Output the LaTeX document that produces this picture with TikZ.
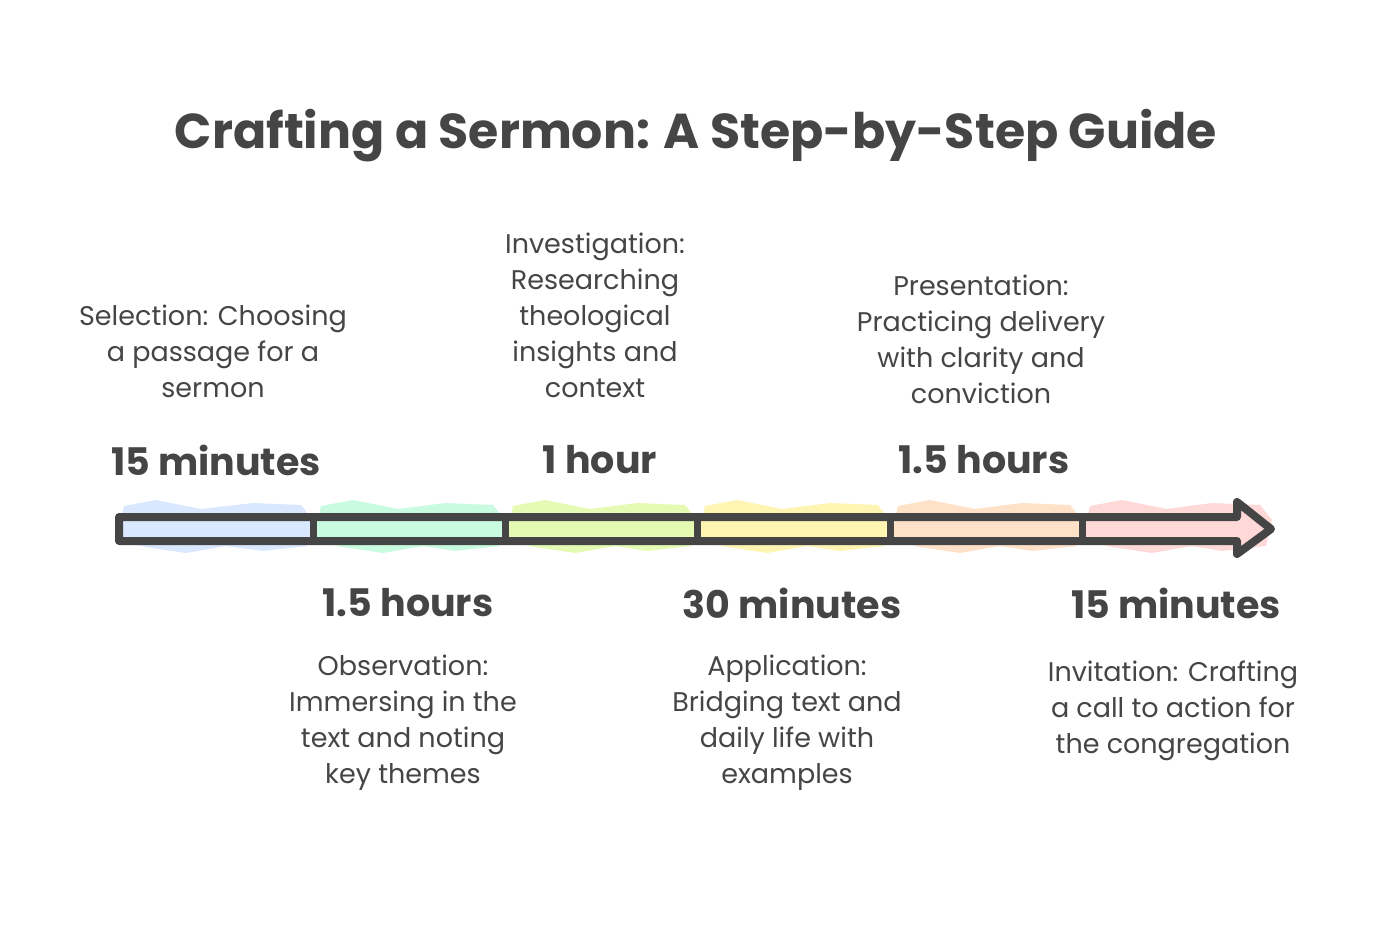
\documentclass[tikz,border=0pt]{standalone}
\usepackage{fontspec}
\setmainfont{Poppins}
\usepackage{tikz}
\usetikzlibrary{positioning}
\usepackage{xcolor}

\definecolor{ink}{HTML}{454545}
\definecolor{segblue}{HTML}{D9E7FF}
\definecolor{seggreen}{HTML}{C9FBE0}
\definecolor{seglime}{HTML}{E5FBB4}
\definecolor{segyellow}{HTML}{FFF5B2}
\definecolor{segorange}{HTML}{FFE1C8}
\definecolor{segred}{HTML}{FFD8D8}

\begin{document}
\begin{tikzpicture}[
    x=1pt, y=-1pt,
    heading/.style={text=ink, font=\fontsize{49}{56}\selectfont\bfseries},
    duration/.style={text=ink, font=\fontsize{38}{44}\selectfont\bfseries},
    phase/.style={text=ink, align=center, inner sep=0pt, font=\fontsize{27}{36}\selectfont},
    bar/.style={draw=ink, line width=8pt, line join=round, line cap=round}
]
\useasboundingbox (0,0) rectangle (1392,936);

% Title
\node[heading] (title) at (696,136) {Crafting a Sermon: A Step-by-Step Guide};

% Sketchy colour fills behind the timeline
\foreach \xa/\xb/\col in {116/313/segblue, 313/505/seggreen, 505/697/seglime,
                          697/890/segyellow, 890/1082/segorange, 1082/1272/segred}{
  \fill[\col] (\xa+8,506) -- (\xa+40,500) -- (\xa+85,509) -- (\xb-60,503)
     -- (\xb-12,505) -- (\xb,520) -- (\xb-6,546) -- (\xb-50,551)
     -- (\xa+110,546) -- (\xa+70,553) -- (\xa+30,547) -- (\xa,540) -- cycle;
}

% Timeline arrow
\draw[bar] (119,517) -- (1237,517) -- (1237,502) -- (1271,529) -- (1237,554)
   -- (1237,541) -- (119,541) -- cycle;
\foreach \xd in {313,505,697,890,1082}{
  \draw[draw=ink, line width=7pt] (\xd,517) -- (\xd,541);
}

% Durations above the line
\node[duration] (d1) at (216,460) {15 minutes};
\node[duration] (d3) at (600,460) {1 hour};
\node[duration] (d5) at (984,460) {1.5 hours};

% Durations below the line
\node[duration] (d2) at (408,603) {1.5 hours};
\node[duration] (d4) at (792,603) {30 minutes};
\node[duration] (d6) at (1176,603) {15 minutes};

% Steps above the line
\node[phase] (selection) at (213,351) {Selection: Choosing\\a passage for a\\sermon};
\node[phase] (investigation) at (595,315) {Investigation:\\Researching\\theological\\insights and\\context};
\node[phase] (presentation) at (981,339) {Presentation:\\Practicing delivery\\with clarity and\\conviction};

% Steps below the line
\node[phase] (observation) at (403,723) {Observation:\\Immersing in the\\text and noting\\key themes};
\node[phase] (application) at (787,723) {Application:\\Bridging text and\\daily life with\\examples};
\node[phase] (invitation) at (1173,711) {Invitation: Crafting\\a call to action for\\the congregation};

\end{tikzpicture}
\end{document}
